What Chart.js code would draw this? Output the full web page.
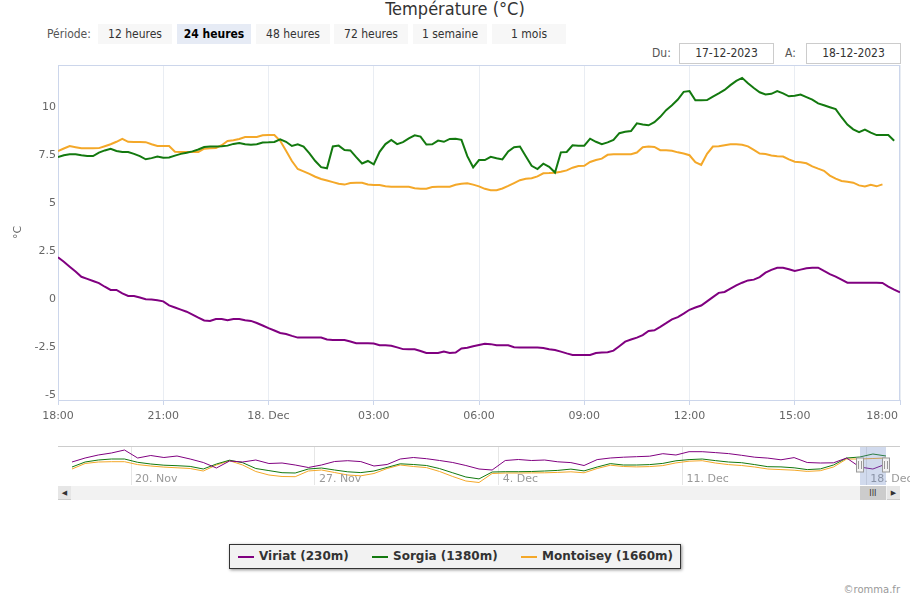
<!DOCTYPE html>
<html lang="fr">
<head>
<meta charset="utf-8">
<title>Température (°C)</title>
<script src="https://cdn.jsdelivr.net/npm/chart.js@4.4.1/dist/chart.umd.min.js"></script>
<style>
  body { margin: 0; width: 910px; height: 600px; background: #fff; position: relative; overflow: hidden; font-family: "DejaVu Sans", sans-serif; }
  .narrow { font-family: "DejaVu Sans Condensed", "DejaVu Sans", sans-serif; font-stretch: condensed; }
  #title { position: absolute; left: 0; top: -2px; width: 910px; text-align: center; font-size: 18px; line-height: 22px; color: #333; }
  #periodLbl { position: absolute; left: 47px; top: 24px; font-size: 12px; line-height: 20px; color: #555; }
  .btn { position: absolute; top: 24px; height: 20px; line-height: 20px; width: 74px; text-align: center; font-size: 12px; color: #333; background: #f7f7f7; }
  .btn.sel { background: #e6ebf5; font-weight: bold; color: #000; }
  .dlbl { position: absolute; top: 43px; line-height: 21px; font-size: 12px; color: #555; }
  .dbox { position: absolute; top: 43px; width: 93px; height: 19px; line-height: 19px; border: 1px solid #ccc; text-align: center; font-size: 12px; color: #333; }
  #main { position: absolute; left: 0; top: 60px; }
  #nav { position: absolute; left: 0; top: 440px; }
  #scroll { position: absolute; left: 58px; top: 486px; width: 842px; height: 14px; background: #f2f2f2; }
  .sbtn { position: absolute; top: 0; width: 13px; height: 13px; background: #e6e6e6; border: 1px solid #ccc; border-width: 0 0 1px 0; font-size: 7px; line-height: 14px; text-align: center; color: #333; }
  #thumb { position: absolute; left: 800px; top: 0; width: 28px; height: 14px; background: #ccc; font-family: "DejaVu Sans Condensed", sans-serif; font-size: 9px; line-height: 14px; text-align: center; color: #333; }
  #legend { position: absolute; left: 229px; top: 544px; width: 450px; height: 23px; border: 1px solid #333; background: #f2f2f2; box-shadow: 1px 1px 3px rgba(0,0,0,0.45); }
  .sw { position: absolute; top: 11px; width: 16px; height: 2px; }
  .lt { position: absolute; top: 0; line-height: 23px; font-size: 12px; font-weight: bold; color: #333; white-space: nowrap; }
  #credit { position: absolute; right: 10px; top: 584px; font-size: 10px; color: #999; }
</style>
</head>
<body>
<div id="title" class="narrow">Température (°C)</div>
<div id="periodLbl" class="narrow">Période:</div>
<div id="buttons"></div>
<div class="dlbl narrow" style="left:652px">Du:</div>
<div class="dbox narrow" style="left:679px">17-12-2023</div>
<div class="dlbl narrow" style="left:785px">A:</div>
<div class="dbox narrow" style="left:806px">18-12-2023</div>

<canvas id="main" width="910" height="370"></canvas>
<canvas id="nav" width="910" height="50"></canvas>
<div id="scroll">
  <div class="sbtn" style="left:0">&#9664;</div>
  <div id="thumb">III</div>
  <div class="sbtn" style="left:829px">&#9654;</div>
</div>
<div id="legend"></div>
<div id="credit">©romma.fr</div>

<script>
// 17-12-2023 18:00 -> 18-12-2023 18:00, one value every 10 minutes
const seriesNames = ['Viriat (230m)', 'Sorgia (1380m)', 'Montoisey (1660m)'];
const seriesColors = ['#800080', '#13790f', '#f4a829'];

const viriat = [2.08,1.85,1.59,1.34,1.07,0.96,0.85,0.74,0.55,0.38,
  0.38,0.2,0.07,0.07,-0.01,-0.1,-0.12,-0.15,-0.21,-0.42,
  -0.53,-0.64,-0.75,-0.9,-1.06,-1.21,-1.23,-1.13,-1.13,-1.2,
  -1.13,-1.13,-1.2,-1.23,-1.34,-1.47,-1.61,-1.73,-1.86,-1.91,
  -2.01,-2.1,-2.1,-2.1,-2.1,-2.1,-2.2,-2.22,-2.22,-2.22,
  -2.3,-2.39,-2.4,-2.4,-2.41,-2.5,-2.5,-2.52,-2.61,-2.7,
  -2.71,-2.71,-2.8,-2.9,-2.9,-2.9,-2.82,-2.9,-2.88,-2.67,
  -2.63,-2.55,-2.48,-2.42,-2.44,-2.5,-2.5,-2.5,-2.6,-2.62,
  -2.62,-2.62,-2.62,-2.64,-2.71,-2.75,-2.83,-2.92,-3.0,-3.0,
  -3.0,-3.0,-2.9,-2.87,-2.86,-2.78,-2.55,-2.31,-2.2,-2.1,
  -1.97,-1.75,-1.72,-1.54,-1.35,-1.15,-1.03,-0.85,-0.65,-0.53,
  -0.43,-0.21,0.01,0.23,0.28,0.45,0.62,0.76,0.88,0.92,
  1.05,1.28,1.43,1.54,1.54,1.46,1.37,1.44,1.51,1.54,
  1.54,1.37,1.21,1.08,0.92,0.76,0.76,0.76,0.76,0.76,
  0.76,0.75,0.56,0.4,0.26];

const sorgia = [7.3,7.4,7.45,7.45,7.4,7.36,7.36,7.54,7.65,7.73,
  7.62,7.57,7.57,7.47,7.35,7.19,7.25,7.33,7.27,7.28,
  7.38,7.47,7.53,7.6,7.7,7.83,7.85,7.85,7.87,7.9,
  7.99,8.04,7.97,7.95,7.97,8.06,8.07,8.09,8.23,8.1,
  7.88,7.97,7.85,7.5,7.1,6.78,6.72,7.86,7.9,7.67,
  7.65,7.3,6.97,7.1,6.92,7.58,7.98,8.2,7.98,8.08,
  8.28,8.44,8.37,7.96,7.97,8.16,8.1,8.25,8.26,8.2,
  7.35,6.77,7.15,7.15,7.32,7.24,7.18,7.6,7.82,7.85,
  7.35,6.85,6.68,6.96,6.8,6.5,7.55,7.57,7.92,7.9,
  7.9,8.26,8.1,7.98,8.07,8.2,8.55,8.62,8.66,9.06,
  9.0,8.96,9.12,9.4,9.75,10.0,10.3,10.7,10.74,10.26,
  10.26,10.27,10.45,10.62,10.8,11.05,11.27,11.43,11.15,10.9,
  10.68,10.57,10.6,10.74,10.62,10.47,10.5,10.56,10.43,10.3,
  10.1,10.0,9.9,9.8,9.38,9.0,8.75,8.6,8.74,8.58,
  8.45,8.45,8.45,8.15,null];

const montoisey = [7.62,7.75,7.88,7.82,7.76,7.76,7.76,7.77,7.87,7.97,
  8.1,8.25,8.1,8.09,8.09,8.08,7.97,7.88,7.88,7.88,
  7.58,7.57,7.57,7.57,7.57,7.74,7.76,7.78,7.92,8.14,
  8.18,8.25,8.35,8.35,8.35,8.44,8.45,8.45,8.15,7.63,
  7.1,6.68,6.56,6.43,6.28,6.16,6.08,6.0,5.91,5.87,
  5.95,5.97,5.97,5.88,5.85,5.85,5.78,5.76,5.76,5.76,
  5.76,5.68,5.66,5.66,5.74,5.76,5.76,5.76,5.86,5.91,
  5.94,5.87,5.78,5.65,5.58,5.58,5.67,5.8,5.95,6.1,
  6.17,6.2,6.3,6.46,6.47,6.49,6.54,6.61,6.75,6.84,
  6.85,7.05,7.15,7.22,7.42,7.45,7.45,7.45,7.45,7.54,
  7.82,7.85,7.83,7.66,7.66,7.63,7.55,7.49,7.4,7.04,
  6.9,7.47,7.85,7.87,7.92,7.97,7.97,7.95,7.86,7.68,
  7.49,7.46,7.39,7.35,7.33,7.18,7.06,7.03,6.98,6.82,
  6.7,6.59,6.34,6.18,6.06,6.02,5.97,5.83,5.77,5.86,
  5.78,5.88,null,null,null];

const tickMinutes = [0, 180, 360, 540, 720, 900, 1080, 1260, 1440];
const tickLabels = ['18:00', '21:00', '18. Dec', '03:00', '06:00', '09:00', '12:00', '15:00', '18:00'];
const yTicks = [-5, -2.5, 0, 2.5, 5, 7.5, 10];

// navigator: one month overview (17 Nov 18:00 -> 18 Dec 18:00), every 12 h, relative level
const navViriat = [11.5,13.5,15,16,17.5,13.5,14.75,13.75,14.5,13,11.25,8.5,12,11.5,12.5,10.75,11,10,8.75,10,
  11.75,12.15,11.7,9.5,10.25,13,13.75,13.15,12.25,11.25,9.75,8,7.5,12.25,12.75,12.25,12.5,11.6,11.2,9.75,
  12.7,13.5,13.9,14.15,14.4,15.65,15,16.65,16.65,16.2,15.7,14.85,13.9,13.45,12.6,13.7,11.25,11,11.1,13.5,
  9,8,10.5];
const navSorgia = [9,11.5,12.5,13,13,11.35,10.5,9.9,9.65,9.3,8,10.5,12.4,11.15,8.25,7.2,6.15,6,8,8.5,
  7.5,6.6,6.2,7,8.8,10.6,10.25,9.75,8.2,6.1,4,3.05,6.5,6.65,6.65,6.75,7,7.3,7.95,7.05,
  9,10.7,10,10,10.2,10.8,12.1,12.7,13,12.2,11.5,11.15,10.2,9.15,9.05,8.6,7.7,8.05,10,13.5,
  14,15.5,14.5];
const navMontoisey = [8,10.75,11.5,11.65,11.65,10.2,9.5,8.95,8.6,8.25,7,10,12.15,10,6.75,5,4.25,4.15,7,7.5,
  6.25,5,4.6,5.75,8.25,10,9.25,8.7,6.75,4.25,2,1.25,5.75,6,6,6.05,6.1,6.3,6.6,6.1,
  8.25,9.9,9.25,9.05,9.2,9.7,11.05,11.9,12.15,11,10.2,9.75,9,8,7.7,7.4,6.8,7.15,9,13,
  13,13.25,13.5];
const navTickDays = [2.25, 9.25, 16.25, 23.25, 30.25];
const navTickLabels = ['20. Nov', '27. Nov', '4. Dec', '11. Dec', '18. Dec'];
const selStart = 30, selEnd = 31;

const FONT = '"DejaVu Sans", sans-serif';

// header buttons
const periods = ['12 heures', '24 heures', '48 heures', '72 heures', '1 semaine', '1 mois'];
const btnLeft = [98, 177, 256, 334, 413, 492];
periods.forEach((p, i) => {
  const b = document.createElement('div');
  b.className = 'btn narrow' + (i === 1 ? ' sel' : '');
  b.style.left = btnLeft[i] + 'px';
  b.textContent = p;
  document.getElementById('buttons').appendChild(b);
});

// legend
const legendPos = [[8, 29], [142, 163], [291, 312]];
const legend = document.getElementById('legend');
seriesNames.forEach((n, i) => {
  legend.insertAdjacentHTML('beforeend',
    '<i class="sw" style="left:' + legendPos[i][0] + 'px;background:' + seriesColors[i] + '"></i>' +
    '<span class="lt" style="left:' + legendPos[i][1] + 'px">' + n + '</span>');
});

function toPoints(arr, step) {
  return arr.map((v, i) => ({ x: i * step, y: v }));
}

const plotFrame = {
  id: 'plotFrame',
  beforeDatasetsDraw(chart) {
    const { ctx, chartArea: a } = chart;
    ctx.save();
    ctx.strokeStyle = '#ccd6eb';
    ctx.lineWidth = 1;
    ctx.beginPath();
    ctx.moveTo(a.left, Math.round(a.top) + 0.5);
    ctx.lineTo(a.right, Math.round(a.top) + 0.5);
    ctx.moveTo(Math.round(a.right) - 0.5, a.top);
    ctx.lineTo(Math.round(a.right) - 0.5, a.bottom);
    ctx.stroke();
    ctx.restore();
  },
  afterDraw(chart) {
    const { ctx, chartArea: a, scales: { x } } = chart;
    ctx.save();
    ctx.font = '11px ' + FONT;
    ctx.fillStyle = '#666';
    ctx.textAlign = 'left';
    ctx.textBaseline = 'middle';
    tickMinutes.forEach((m, i) => {
      const px = x.getPixelForValue(m);
      const w = ctx.measureText(tickLabels[i]).width;
      let left = px - w / 2;
      if (left + w > chart.width - 12) left = chart.width - 12 - w;
      ctx.fillText(tickLabels[i], left, a.bottom + 16);
    });
    ctx.restore();
  }
};

const mainSeries = [viriat, sorgia, montoisey];
new Chart(document.getElementById('main'), {
  type: 'line',
  data: {
    datasets: mainSeries.map((s, i) => ({
      label: seriesNames[i],
      data: toPoints(s, 10),
      borderColor: seriesColors[i],
      borderWidth: 2,
      pointRadius: 0,
      tension: 0,
      spanGaps: false
    }))
  },
  options: {
    responsive: false,
    animation: false,
    devicePixelRatio: 1,
    layout: { padding: { top: 5, right: 10, left: 0, bottom: 0 } },
    plugins: { legend: { display: false }, tooltip: { enabled: false } },
    scales: {
      x: {
        type: 'linear', min: 0, max: 1440,
        afterBuildTicks: s => { s.ticks = tickMinutes.map(v => ({ value: v })); },
        grid: { color: '#e9edf3', tickColor: '#ccd6eb', tickLength: 5 },
        border: { color: '#ccd6eb' },
        ticks: { display: false },
        afterFit: s => { s.height = 30; s.paddingLeft = 0; s.paddingRight = 0; }
      },
      y: {
        min: -5.35, max: 12.1,
        afterBuildTicks: s => { s.ticks = yTicks.map(v => ({ value: v })); },
        grid: { display: false, drawTicks: false },
        border: { display: true, color: '#ccd6eb' },
        ticks: { color: '#666', font: { family: FONT, size: 11 }, padding: 2, labelOffset: 2, callback: v => String(v) },
        title: { display: true, text: '°C', color: '#666', font: { family: FONT, size: 11 }, padding: { top: 12, bottom: 0 } },
        afterFit: s => { s.width = 58; s.paddingTop = 0; s.paddingBottom = 0; }
      }
    }
  },
  plugins: [plotFrame]
});

const navDecor = {
  id: 'navDecor',
  afterDatasetsDraw(chart) {
    const { ctx, chartArea: a, scales: { x } } = chart;
    ctx.save();
    // outline on top
    ctx.strokeStyle = '#cccccc';
    ctx.lineWidth = 1;
    ctx.beginPath();
    ctx.moveTo(a.left, Math.round(a.top) - 0.5);
    ctx.lineTo(a.right, Math.round(a.top) - 0.5);
    ctx.stroke();
    // date labels
    ctx.font = '11px ' + FONT;
    ctx.fillStyle = '#999';
    ctx.textBaseline = 'middle';
    navTickDays.forEach((d, i) => {
      ctx.fillText(navTickLabels[i], x.getPixelForValue(d) + 4, a.bottom - 6);
    });
    // selected range mask
    const x0 = Math.round(x.getPixelForValue(selStart));
    const x1 = Math.round(x.getPixelForValue(selEnd));
    ctx.fillStyle = 'rgba(102,133,194,0.3)';
    ctx.fillRect(x0, a.top, x1 - x0, a.bottom - a.top);
    // handles
    const cy = (a.top + a.bottom) / 2 - 1;
    [x0, x1].forEach(hx => {
      ctx.fillStyle = '#f2f2f2';
      ctx.strokeStyle = '#999';
      ctx.fillRect(hx - 3.5, cy - 7, 7, 14);
      ctx.strokeRect(hx - 3.5, cy - 7, 7, 14);
      ctx.beginPath();
      ctx.moveTo(hx - 1.5, cy - 4); ctx.lineTo(hx - 1.5, cy + 4);
      ctx.moveTo(hx + 1.5, cy - 4); ctx.lineTo(hx + 1.5, cy + 4);
      ctx.stroke();
    });
    ctx.restore();
  }
};

const navSeries = [navViriat, navSorgia, navMontoisey];
const navChart = new Chart(document.getElementById('nav'), {
  type: 'line',
  data: {
    datasets: navSeries.map((s, i) => ({
      data: toPoints(s, 0.5),
      borderColor: seriesColors[i],
      borderWidth: 1,
      pointRadius: 0,
      tension: 0
    }))
  },
  options: {
    responsive: false,
    animation: false,
    devicePixelRatio: 1,
    layout: { padding: { top: 7, right: 10, left: 58, bottom: 5 } },
    plugins: { legend: { display: false }, tooltip: { enabled: false } },
    scales: {
      x: {
        type: 'linear', min: -0.533, max: 31.533,
        afterBuildTicks: s => { s.ticks = navTickDays.map(v => ({ value: v })); },
        grid: { color: '#e6e6e6', drawTicks: false },
        border: { display: false },
        ticks: { display: false },
        afterFit: s => { s.height = 0; s.paddingLeft = 0; s.paddingRight = 0; }
      },
      y: { display: false, min: 0, max: 19 }
    }
  },
  plugins: [navDecor]
});

// scrollbar thumb follows the navigator selection
const nx = navChart.scales.x;
const t0 = nx.getPixelForValue(selStart), t1 = nx.getPixelForValue(selEnd);
const thumb = document.getElementById('thumb');
thumb.style.left = (t0 - 58) + 'px';
thumb.style.width = (t1 - t0) + 'px';
</script>
</body>
</html>
